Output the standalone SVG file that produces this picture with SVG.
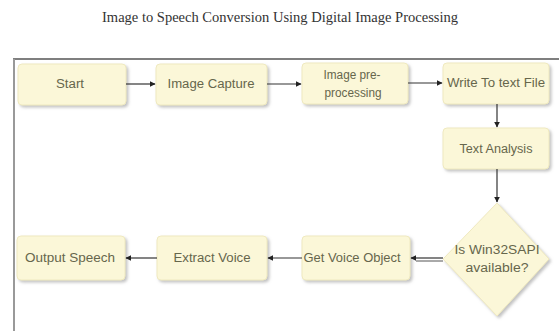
<svg xmlns="http://www.w3.org/2000/svg" width="559" height="331" viewBox="0 0 559 331">
<defs>
<marker id="ah" viewBox="0 0 10 10" refX="9" refY="5" markerWidth="5" markerHeight="5" orient="auto"><path d="M0,0 L10,5 L0,10 z" fill="#222"/></marker>
<filter id="sh" x="-10%" y="-10%" width="130%" height="140%"><feDropShadow dx="2" dy="2" stdDeviation="1.5" flood-color="#999" flood-opacity="0.6"/></filter>
</defs>
<style>
.box{fill:#fbf7d8;stroke:#efe9c0;stroke-width:1;filter:url(#sh)}
.lbl{font-family:"Liberation Sans",Arial,sans-serif;font-size:12px;fill:#66664c;text-anchor:middle}
.ttl{font-family:"Liberation Serif","Times New Roman",serif;font-size:14px;fill:#333;text-anchor:middle}
.con{stroke:#333;stroke-width:1.2;fill:none;marker-end:url(#ah)}
</style>
<rect width="559" height="331" fill="#ffffff"/>
<text class="ttl" x="280" y="22" textLength="356" lengthAdjust="spacingAndGlyphs">Image to Speech Conversion Using Digital Image Processing</text>
<g id="frame">
<line x1="13" y1="59" x2="559" y2="59" stroke="#555" stroke-width="1.5"/>
<line x1="14" y1="59" x2="14" y2="331" stroke="#999" stroke-width="2"/>
</g>
<g id="start"><rect class="box" x="18" y="64" width="108" height="41" rx="4"/><text class="lbl" x="70" y="88" textLength="28" lengthAdjust="spacingAndGlyphs">Start</text></g>
<g id="capture"><rect class="box" x="156" y="64" width="111" height="41" rx="4"/><text class="lbl" x="211" y="88" textLength="87" lengthAdjust="spacingAndGlyphs">Image Capture</text></g>
<g id="preproc"><rect class="box" x="302" y="63" width="106" height="41" rx="4"/><text class="lbl" x="352" y="79" textLength="57" lengthAdjust="spacingAndGlyphs">Image pre-</text><text class="lbl" x="353" y="97" textLength="57" lengthAdjust="spacingAndGlyphs">processing</text></g>
<g id="write"><rect class="box" x="443" y="63" width="106" height="41" rx="4"/><text class="lbl" x="496" y="87" textLength="98" lengthAdjust="spacingAndGlyphs">Write To text File</text></g>
<g id="analysis"><rect class="box" x="443" y="128" width="106" height="41" rx="4"/><text class="lbl" x="496" y="153" textLength="73" lengthAdjust="spacingAndGlyphs">Text Analysis</text></g>
<g id="decision"><polygon class="box" points="497,203 549,259 497,316 443,259"/><text class="lbl" x="497" y="254" textLength="85" lengthAdjust="spacingAndGlyphs">Is Win32SAPI</text><text class="lbl" x="497" y="272" textLength="63" lengthAdjust="spacingAndGlyphs">available?</text></g>
<g id="getvoice"><rect class="box" x="302" y="236" width="108" height="44" rx="4"/><text class="lbl" x="352" y="262" textLength="97" lengthAdjust="spacingAndGlyphs">Get Voice Object</text></g>
<g id="extract"><rect class="box" x="157" y="236" width="110" height="44" rx="4"/><text class="lbl" x="212" y="262" textLength="77" lengthAdjust="spacingAndGlyphs">Extract Voice</text></g>
<g id="output"><rect class="box" x="17" y="236" width="108" height="44" rx="4"/><text class="lbl" x="70" y="262" textLength="90" lengthAdjust="spacingAndGlyphs">Output Speech</text></g>
<g id="connectors">
<line class="con" x1="126" y1="84" x2="155" y2="84"/>
<line class="con" x1="267" y1="84" x2="301" y2="84"/>
<line class="con" x1="408" y1="83" x2="442" y2="83"/>
<line class="con" x1="497" y1="104" x2="497" y2="127"/>
<line class="con" x1="497" y1="169" x2="497" y2="202"/>
<line class="con" x1="443" y1="258" x2="411" y2="258"/>
<line x1="443" y1="261" x2="416" y2="261" stroke="#555" stroke-width="1"/>
<line class="con" x1="302" y1="258" x2="268" y2="258"/>
<line class="con" x1="157" y1="258" x2="126" y2="258"/>
</g>
</svg>
